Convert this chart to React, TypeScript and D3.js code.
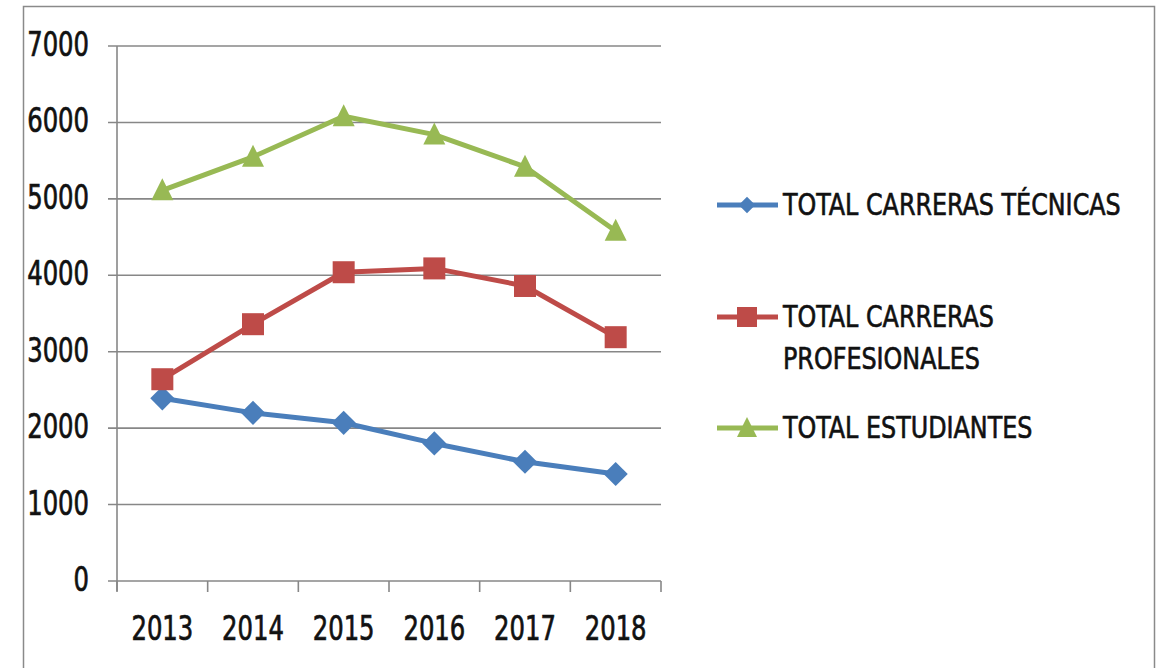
import React from "react";
import * as d3 from "d3";

const years = ["2013", "2014", "2015", "2016", "2017", "2018"];
const tecnicas = [2390, 2200, 2070, 1800, 1560, 1400];
const profesionales = [2640, 3360, 4040, 4090, 3860, 3190];
const estudiantes = [5110, 5550, 6080, 5840, 5420, 4580];
const yTicks = [0, 1000, 2000, 3000, 4000, 5000, 6000, 7000];

const series = [
  { name: ["TOTAL CARRERAS TÉCNICAS"], values: tecnicas, color: "#4a7ebb", marker: "diamond" },
  { name: ["TOTAL CARRERAS", "PROFESIONALES"], values: profesionales, color: "#be4b48", marker: "square" },
  { name: ["TOTAL ESTUDIANTES"], values: estudiantes, color: "#98b954", marker: "triangle" },
];

const FONT = "'DejaVu Sans Condensed', 'DejaVu Sans', sans-serif";

function Marker({ type, x, y, color, s }: { type: string; x: number; y: number; color: string; s: number }) {
  if (type === "diamond") {
    const r = s * 0.55;
    return <path d={`M${x},${y - r}L${x + r},${y}L${x},${y + r}L${x - r},${y}Z`} fill={color} />;
  }
  if (type === "square") {
    const h = s * 0.5;
    return <rect x={x - h} y={y - h} width={2 * h} height={2 * h} fill={color} />;
  }
  const h = s * 0.5;
  return <path d={`M${x},${y - h * 1.1}L${x + h},${y + h * 0.9}L${x - h},${y + h * 0.9}Z`} fill={color} />;
}

function SText({ x, y, anchor, size, sy, children }: any) {
  return (
    <g transform={`translate(${x},${y}) scale(1,${sy})`}>
      <text x={0} y={0} textAnchor={anchor} fontFamily={FONT} fontSize={size} fill="#111" stroke="#111" strokeWidth={0.55}>
        {children}
      </text>
    </g>
  );
}

export default function App() {
  const left = 117, right = 661, top = 46, bottom = 581;
  const x = d3.scaleBand<string>().domain(years).range([left, right]);
  const y = d3.scaleLinear().domain([0, 7000]).range([bottom, top]);
  const line = (vals: number[]) =>
    d3.line<number>()
      .x((_, i) => (x(years[i]) as number) + x.bandwidth() / 2)
      .y((v) => y(v))(vals) as string;
  const bounds = [...years.map((yr) => x(yr) as number), right];
  const legendY = [205, 317, 428];
  const legendSize = [15, 20, 20];

  return (
    <svg width={1159} height={668} style={{ position: "absolute", left: 0, top: 0, background: "#fff" }}>
      <rect x={23.5} y={6.5} width={1131} height={700} fill="#fff" stroke="#8a8a8a" strokeWidth={1.5} />
      {yTicks.map((t) => (
        <g key={t}>
          <line x1={108} x2={right} y1={y(t)} y2={y(t)} stroke="#878787" strokeWidth={1.6} />
          <SText x={89} y={y(t) + 10} anchor="end" size={27} sy={1.25}>{t}</SText>
        </g>
      ))}
      <line x1={left} x2={left} y1={top} y2={bottom + 10} stroke="#878787" strokeWidth={1.6} />
      {bounds.map((b, i) => (
        <line key={i} x1={b} x2={b} y1={bottom} y2={bottom + 11} stroke="#878787" strokeWidth={1.6} />
      ))}
      {years.map((yr) => (
        <SText key={yr} x={(x(yr) as number) + x.bandwidth() / 2} y={640} anchor="middle" size={27} sy={1.25}>
          {yr}
        </SText>
      ))}
      {series.map((s) => (
        <g key={s.color}>
          <path d={line(s.values)} fill="none" stroke={s.color} strokeWidth={5} strokeLinejoin="round" />
          {s.values.map((v, i) => (
            <Marker key={i} type={s.marker} x={(x(years[i]) as number) + x.bandwidth() / 2} y={y(v)} color={s.color} s={22} />
          ))}
        </g>
      ))}
      {series.map((s, k) => (
        <g key={"lg" + k}>
          <line x1={717} x2={778} y1={legendY[k]} y2={legendY[k]} stroke={s.color} strokeWidth={5} />
          <Marker type={s.marker} x={747} y={legendY[k]} color={s.color} s={legendSize[k]} />
          {s.name.map((n, j) => (
            <SText key={j} x={783} y={legendY[k] + 10 + j * 42} anchor="start" size={26.5} sy={1.13}>
              {n}
            </SText>
          ))}
        </g>
      ))}
    </svg>
  );
}
